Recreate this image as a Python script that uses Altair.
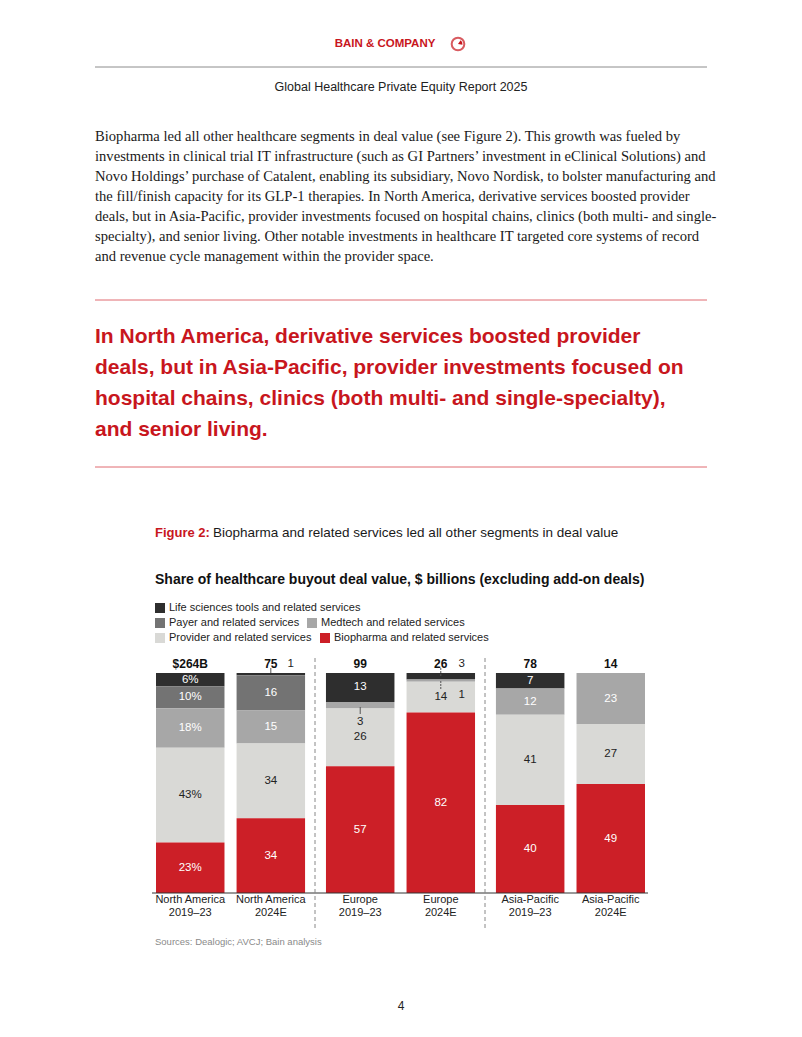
import altair as alt
import pandas as pd

# ---------------- data ----------------
regions = ["North America", "North America", "Europe", "Europe", "Asia-Pacific", "Asia-Pacific"]
periods = ["2019–23", "2024E", "2019–23", "2024E", "2019–23", "2024E"]
totals = ["$264B", "75", "99", "26", "78", "14"]

segments = ["Life sciences tools and related services", "Payer and related services",
            "Medtech and related services", "Provider and related services",
            "Biopharma and related services"]
seg_colors = ["#2e2e2e", "#737373", "#a7a7a7", "#d9d9d6", "#cc1f27"]
seg_text = ["#ffffff", "#ffffff", "#ffffff", "#222222", "#ffffff"]

lifesci = [6, 1, 13, 3, 7, 0]
payer = [10, 16, 0, 0, 0, 0]
medtech = [18, 15, 3, 1, 12, 23]
provider = [43, 34, 26, 14, 41, 27]
biopharma = [23, 34, 57, 82, 40, 49]
pct_bar = [True, False, False, False, False, False]

# small segments labelled outside the bar with leader lines
ann_bar = [1, 2, 3, 3]            # bar index
ann_label = ["1", "3", "3", "1"]

paragraph = [
    "Biopharma led all other healthcare segments in deal value (see Figure 2). This growth was fueled by",
    "investments in clinical trial IT infrastructure (such as GI Partners’ investment in eClinical Solutions) and",
    "Novo Holdings’ purchase of Catalent, enabling its subsidiary, Novo Nordisk, to bolster manufacturing and",
    "the fill/finish capacity for its GLP-1 therapies. In North America, derivative services boosted provider",
    "deals, but in Asia-Pacific, provider investments focused on hospital chains, clinics (both multi- and single-",
    "specialty), and senior living. Other notable investments in healthcare IT targeted core systems of record",
    "and revenue cycle management within the provider space.",
]
heading = [
    "In North America, derivative services boosted provider",
    "deals, but in Asia-Pacific, provider investments focused on",
    "hospital chains, clinics (both multi- and single-specialty),",
    "and senior living.",
]

SANS = "Liberation Sans"
SERIF = "Liberation Serif"
RED = "#c8161d"
O = 8  # page margin offset

# ---------------- tables ----------------
series = [lifesci, payer, medtech, provider, biopharma]
rows = []
for i in range(len(regions)):
    for s, name in enumerate(segments):
        v = series[s][i]
        show = v >= 6
        lab = (f"{v}%" if pct_bar[i] else f"{v}") if show else ""
        rows.append(dict(key=f"{regions[i]}|{periods[i]}", region=regions[i], period=periods[i],
                         seg=name, ord=4 - s, value=v, label=lab, tcolor=seg_text[s]))
df = pd.DataFrame(rows)

tot_df = pd.DataFrame(dict(region=regions, period=periods, total=totals,
                           xlab=[f"{r}\n{p}" for r, p in zip(regions, periods)]))
ann_df = pd.DataFrame(dict(region=[regions[b] for b in ann_bar], period=[periods[b] for b in ann_bar],
                           label=ann_label))

x_enc = alt.X("region:N", scale=alt.Scale(domain=["North America", "Europe", "Asia-Pacific"],
                                          range=[156 - O, 645 - O], paddingInner=0.123, paddingOuter=0),
              axis=None)
xo_enc = alt.XOffset("period:N", scale=alt.Scale(domain=["2019–23", "2024E"], paddingInner=0.15,
                                                  paddingOuter=0))
y_scale = alt.Scale(domain=[0, 1], range=[893 - O, 673 - O])

base = alt.Chart(df).transform_stack(
    stack="value", groupby=["key"], sort=[alt.SortField("ord", order="ascending")],
    offset="normalize", as_=["y0", "y1"]
).transform_calculate(ymid="(datum.y0 + datum.y1) / 2")

bars = base.mark_bar(stroke=None).encode(
    x=x_enc, xOffset=xo_enc,
    y=alt.Y("y0:Q", scale=y_scale, axis=None), y2="y1:Q",
    color=alt.Color("seg:N", scale=alt.Scale(domain=segments, range=seg_colors), legend=None),
)
seg_labels = base.mark_text(font=SANS, fontSize=11.5, baseline="middle").encode(
    x=x_enc, xOffset=xo_enc, y=alt.Y("ymid:Q", scale=y_scale, axis=None),
    text="label:N", color=alt.Color("tcolor:N", scale=None),
)

tot_text = alt.Chart(tot_df).mark_text(font=SANS, fontSize=12, fontWeight="bold", color="#111",
                                       baseline="middle").encode(
    x=x_enc, xOffset=xo_enc, y=alt.value(664 - O), text="total:N")
x_labels = alt.Chart(tot_df).mark_text(font=SANS, fontSize=11, color="#222", baseline="top",
                                       lineBreak="\n", lineHeight=13).encode(
    x=x_enc, xOffset=xo_enc, y=alt.value(894 - O), text="xlab:N")

ann_pos = [(20, 664), (0, 722), (21, 664), (21, 695)]
ann_lines = [(668, 673), (707, 714), (668, 677), (681, 689)]
ann_layers = []
for k, ((dx, yy), (ya, yb)) in enumerate(zip(ann_pos, ann_lines)):
    sub = ann_df.iloc[[k]]
    ann_layers.append(alt.Chart(sub).mark_text(font=SANS, fontSize=11.5, color="#222", dx=dx,
                                               baseline="middle").encode(
        x=x_enc, xOffset=xo_enc, y=alt.value(yy - O), text="label:N"))
    ann_layers.append(alt.Chart(sub).mark_rule(color="#555", strokeWidth=1, xOffset=dx,
                                               strokeDash=[2, 1] if k >= 2 else [1, 0]).encode(
        x=x_enc, xOffset=xo_enc, y=alt.value(ya - O), y2=alt.value(yb - O)))

# ---------------- page decoration ----------------
one = alt.Data(values=[{"a": 1}])


def txt(s, x, y, size, color, weight="normal", font=SANS, align="left", style="normal"):
    return alt.Chart(one).mark_text(text=s, align=align, baseline="middle", fontSize=size, font=font,
                                    fontWeight=weight, color=color, fontStyle=style).encode(
        x=alt.value(x - O), y=alt.value(y - O))


def hline(x1, x2, y, color, w=1):
    return alt.Chart(one).mark_rule(color=color, strokeWidth=w).encode(
        x=alt.value(x1 - O), x2=alt.value(x2 - O), y=alt.value(y - O))


def vline(x, y1, y2, color, w=1, dash=None):
    kw = dict(color=color, strokeWidth=w)
    if dash:
        kw["strokeDash"] = dash
    return alt.Chart(one).mark_rule(**kw).encode(
        x=alt.value(x - O), y=alt.value(y1 - O), y2=alt.value(y2 - O))


def square(x, y, color):
    return alt.Chart(one).mark_rect(color=color).encode(
        x=alt.value(x - O), x2=alt.value(x + 10 - O), y=alt.value(y - 5 - O), y2=alt.value(y + 5 - O))


deco = []
deco.append(txt("BAIN & COMPANY", 385, 44, 11.5, RED, weight="bold", align="center"))
deco.append(alt.Chart(one).mark_point(shape="circle", filled=False, color=RED, strokeWidth=2, size=160).encode(
    x=alt.value(458 - O), y=alt.value(44 - O)))
deco.append(alt.Chart(one).mark_arc(color=RED, radius=4.5, theta=3.14159 * 0.2, theta2=3.14159 * 0.55).encode(
    x=alt.value(458 - O), y=alt.value(44 - O)))
deco.append(hline(95, 707, 67, "#8c8c8c"))
deco.append(txt("Global Healthcare Private Equity Report 2025", 401, 87, 12.5, "#222", align="center"))
for i, line in enumerate(paragraph):
    deco.append(txt(line, 95, 137 + 20 * i, 14.6, "#1a1a1a", font=SERIF))
deco.append(hline(95, 707, 300, "#e06a70"))
for i, line in enumerate(heading):
    deco.append(txt(line, 95, 337 + 31 * i, 21, RED, weight="bold"))
deco.append(hline(95, 707, 467, "#e06a70"))
deco.append(txt("Figure 2:", 155, 533, 13, RED, weight="bold"))
deco.append(txt("Biopharma and related services led all other segments in deal value", 213, 533, 13.5, "#1a1a1a"))
deco.append(txt("Share of healthcare buyout deal value, $ billions (excluding add-on deals)", 155, 580, 14,
                "#111", weight="bold"))
legend_items = [(155, 608, 0), (155, 623, 1), (307, 623, 2), (155, 638, 3), (320, 638, 4)]
for lx, ly, s in legend_items:
    deco.append(square(lx, ly, seg_colors[s]))
    deco.append(txt(segments[s], lx + 14, ly, 11, "#222"))
deco.append(hline(152, 648, 893, "#333"))
deco.append(vline(315, 658, 928, "#888", dash=[4, 3]))
deco.append(vline(485, 658, 928, "#888", dash=[4, 3]))
deco.append(txt("Sources: Dealogic; AVCJ; Bain analysis", 155, 942, 9.5, "#8a8a8a"))
deco.append(txt("4", 401, 1006, 12, "#222", align="center"))

chart = alt.layer(bars, seg_labels, tot_text, x_labels, *ann_layers, *deco).properties(
    width=786, height=1015, autosize=alt.AutoSizeParams(type="none"), padding=0,
    background="white",
).configure_view(stroke=None)

chart.save("out.html", embed_options={"renderer": "svg", "actions": False})
